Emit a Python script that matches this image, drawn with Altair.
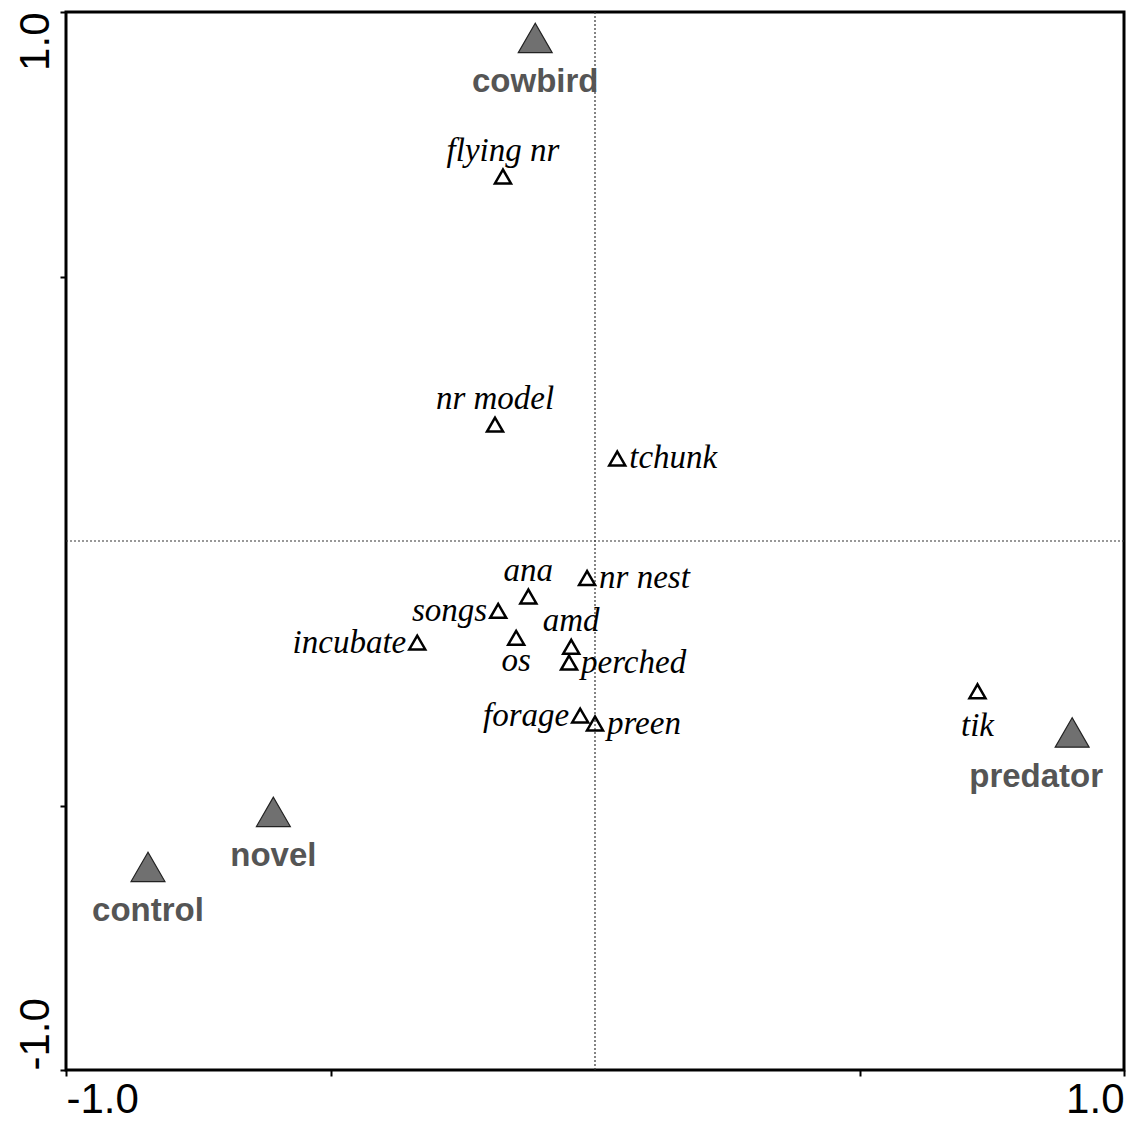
import altair as alt
import pandas as pd

# ---------------- data ----------------
treat_names = ["cowbird", "novel", "control", "predator"]
treat_x = [-0.113, -0.608, -0.845, 0.902]
treat_y = [0.951, -0.512, -0.616, -0.362]

beh_names = ["flying nr", "nr model", "tchunk", "nr nest", "ana", "songs",
             "incubate", "os", "amd", "perched", "forage", "preen", "tik"]
beh_x = [-0.174, -0.189, 0.042, -0.015, -0.126, -0.183,
         -0.336, -0.149, -0.045, -0.049, -0.028, 0.0, 0.723]
beh_y = [0.689, 0.220, 0.156, -0.070, -0.105, -0.132,
         -0.192, -0.183, -0.200, -0.230, -0.330, -0.345, -0.284]

axis_ticks = [-1.0, -0.5, 0.5, 1.0]

# ---------------- label placement (layout) ----------------
beh_place = {"flying nr": "above", "nr model": "above", "ana": "above", "amd": "above",
             "tchunk": "right", "nr nest": "right", "perched": "right", "preen": "right",
             "songs": "left", "incubate": "left", "forage": "left",
             "os": "below", "tik": "below_far"}
treat_place = {"cowbird": "below", "novel": "below", "control": "below",
               "predator": "below_left"}

treat = pd.DataFrame({"name": treat_names, "x": treat_x, "y": treat_y})
treat["place"] = treat["name"].map(treat_place)
beh = pd.DataFrame({"name": beh_names, "x": beh_x, "y": beh_y})
beh["place"] = beh["name"].map(beh_place)

xs = alt.Scale(domain=[-1, 1], nice=False, zero=False)
ys = alt.Scale(domain=[-1, 1], nice=False, zero=False)

label_expr = "datum.value == 1 ? '1.0' : (datum.value == -1 ? '-1.0' : '')"
x_axis = alt.Axis(values=axis_ticks, labelExpr=label_expr, labelFlush=True,
                  labelFontSize=42, labelFont="Liberation Sans", labelColor="black",
                  tickColor="black", tickWidth=2, tickSize=6, domain=False,
                  grid=False, title=None, labelPadding=3)
y_axis = alt.Axis(values=axis_ticks, labelExpr=label_expr, labelAngle=270,
                  labelAlign={"condition": {"test": "datum.value > 0", "value": "right"},
                              "value": "left"},
                  labelBaseline="bottom",
                  labelFontSize=42, labelFont="Liberation Sans", labelColor="black",
                  tickColor="black", tickWidth=2, tickSize=6, domain=False,
                  grid=False, title=None, labelPadding=3)

X = alt.X("x:Q", scale=xs, axis=x_axis)
Y = alt.Y("y:Q", scale=ys, axis=y_axis)

vline = alt.Chart().mark_rule(strokeDash=[2, 2], color="#333", strokeWidth=1.2).encode(
    x=alt.datum(0, scale=xs))
hline = alt.Chart().mark_rule(strokeDash=[2, 2], color="#333", strokeWidth=1.2).encode(
    y=alt.datum(0, scale=ys))

beh_pts = alt.Chart(beh).mark_point(shape="triangle-up", size=256, filled=False,
                                    color="black", strokeWidth=2.5, opacity=1).encode(x=X, y=Y)
treat_pts = alt.Chart(treat).mark_point(shape="triangle-up", size=1150, filled=True,
                                        fill="#707070", stroke="#222", strokeWidth=1.2,
                                        opacity=1).encode(x=X, y=Y)

beh_offsets = {"above": dict(dx=0, dy=-26, align="center"),
               "below": dict(dx=0, dy=23, align="center"),
               "below_far": dict(dx=0, dy=35, align="center"),
               "right": dict(dx=12, dy=0, align="left"),
               "left": dict(dx=-11, dy=0, align="right")}
treat_offsets = {"below": dict(dx=0, dy=44, align="center"),
                 "below_left": dict(dx=-36, dy=45, align="center")}

layers = [vline, hline, treat_pts, beh_pts]
for place, opts in beh_offsets.items():
    layers.append(
        alt.Chart(beh).transform_filter(alt.datum.place == place).mark_text(
            font="Liberation Serif", fontStyle="italic", fontSize=33, color="black",
            baseline="middle", **opts).encode(x=X, y=Y, text="name:N"))
for place, opts in treat_offsets.items():
    layers.append(
        alt.Chart(treat).transform_filter(alt.datum.place == place).mark_text(
            font="Liberation Sans", fontWeight="bold", fontSize=33, color="#555555",
            baseline="middle", **opts).encode(x=X, y=Y, text="name:N"))

chart = alt.layer(*layers).properties(
    width=1058, height=1058,
    autosize=alt.AutoSizeParams(type="none"),
    padding={"left": 58, "top": 4, "right": 3, "bottom": 50},
    background="white",
).configure_view(stroke="black", strokeWidth=3)

chart.save("out.html", embed_options={"renderer": "svg", "actions": False})
